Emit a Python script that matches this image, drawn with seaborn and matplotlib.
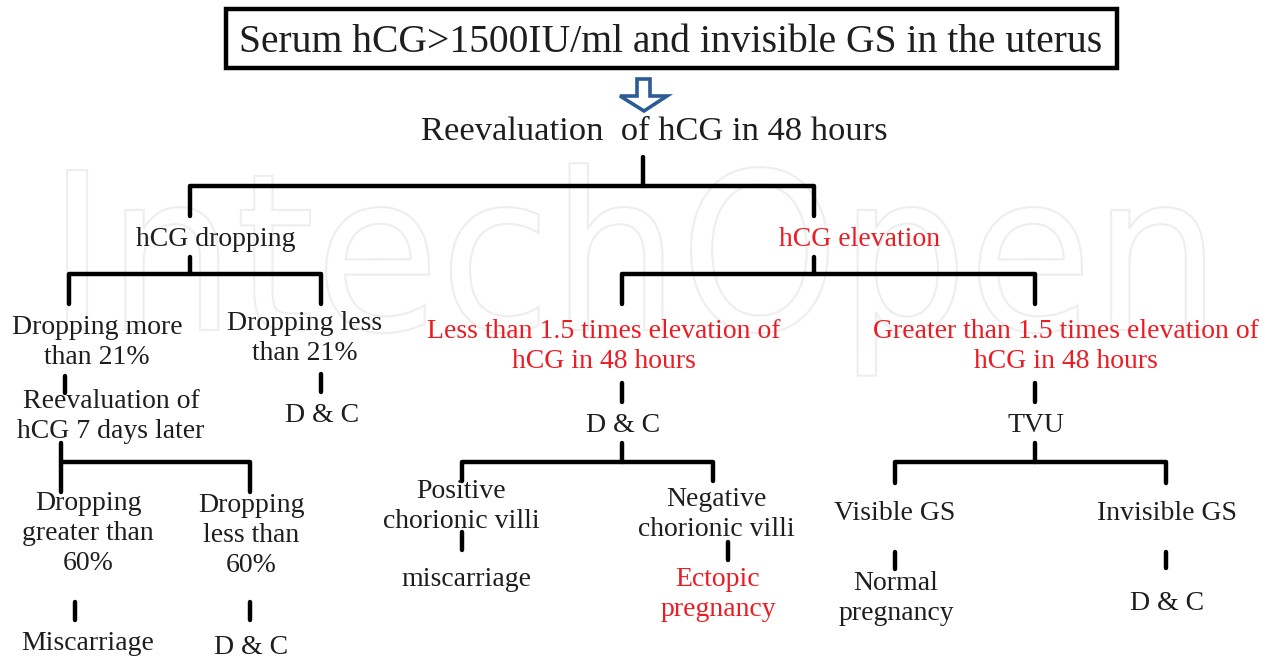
import matplotlib
matplotlib.use("Agg")
import matplotlib.pyplot as plt
import seaborn as sns
import pandas as pd
from matplotlib.patches import Polygon, Rectangle, PathPatch
from matplotlib.textpath import TextPath
from matplotlib.font_manager import FontProperties
from matplotlib.transforms import Affine2D

sns.set_theme(style="white")
plt.rcParams["font.family"] = ["Liberation Serif", "DejaVu Serif"]

BLACK = "#1e1e1e"
RED = "#ec1c24"
BLUE = "#2d5b95"

# title box and first step
title = "Serum hCG>1500IU/ml and invisible GS in the uterus"
first_step = "Reevaluation  of hCG in 48 hours"

# flowchart nodes (text, red flag)
labels = [
    "hCG dropping", "hCG elevation",
    "Dropping more\nthan 21%", "Dropping less\nthan 21%",
    "Less than 1.5 times elevation of\nhCG in 48 hours",
    "Greater than 1.5 times elevation of\nhCG in 48 hours",
    "Reevaluation of\nhCG 7 days later", "D & C", "D & C", "TVU",
    "Dropping\ngreater than\n60%", "Dropping\nless than\n60%",
    "Positive\nchorionic villi", "Negative\nchorionic villi",
    "Visible GS", "Invisible GS",
    "miscarriage", "Ectopic\npregnancy", "Normal\npregnancy", "D & C",
    "Miscarriage", "D & C",
]
is_red = [0, 1, 0, 0, 1, 1, 0, 0, 0, 0, 0, 0, 0, 0, 0, 0, 0, 1, 0, 0, 0, 0]

# layout: centre x and y of first line (pixels from top-left)
node_x = [216, 860, 97, 305, 604, 1066, 111, 322, 623, 1036, 88, 251,
          461, 716, 895, 1167, 466, 718, 896, 1167, 88, 251]
node_y = [237, 237, 325, 321, 330, 330, 399, 413, 423, 423, 502, 503,
          490, 497, 512, 512, 577, 578, 581, 601, 641, 645]

# bracket connectors: stem x, stem top, bar y, bar left, bar right, drop bottom
brackets = [
    (643, 157, 186, 190, 814, 216),
    (190, 257, 274, 69, 321, 304),
    (814, 257, 274, 622, 1035, 304),
    (61, 443, 462, 61, 250, 492),
    (622, 443, 462, 462, 713, 481),
    (1035, 443, 462, 895, 1166, 483),
]
# short vertical stubs: x, top, bottom
stubs = [(65, 376, 393), (321, 374, 392), (622, 383, 402), (1035, 383, 402),
         (75, 602, 620), (250, 602, 620), (462, 532, 550), (728, 542, 560),
         (895, 552, 569), (1166, 552, 568)]

rows = []
seg = 0
for sx, st, by, lx, rx, db in brackets:
    for px, py in [(sx, st), (sx, by)]:
        rows.append((seg, px, py))
    seg += 1
    for px, py in [(lx, db), (lx, by), (rx, by), (rx, db)]:
        rows.append((seg, px, py))
    seg += 1
for x, y0, y1 in stubs:
    rows.append((seg, x, y0))
    rows.append((seg, x, y1))
    seg += 1
lines = pd.DataFrame(rows, columns=["seg", "x", "y"])

fig = plt.figure(figsize=(12.7, 6.59), dpi=100)
ax = fig.add_axes([0, 0, 1, 1])

# faint outlined watermark
tp = TextPath((0, 0), "IntechOpen", size=100, prop=FontProperties(family="DejaVu Sans"))
ext = tp.get_extents()
sxs = (1204 - 67) / ext.width
sys_ = 160 / 72.9
tr = Affine2D().translate(-ext.x0, 0).scale(sxs, -sys_).translate(67, 330)
ax.add_patch(PathPatch(tr.transform_path(tp), facecolor="none",
                       edgecolor="#eeeeee", lw=1.5, zorder=0))

sns.lineplot(data=lines, x="x", y="y", units="seg", estimator=None, sort=False,
             color="black", lw=3.2, ax=ax, zorder=2)
ax.set_xlim(0, 1270)
ax.set_ylim(659, 0)
ax.axis("off")

# title box
ax.add_patch(Rectangle((226, 9), 891, 59, facecolor="white", edgecolor="black",
                       lw=3.2, zorder=3))
ax.text(671, 42, title, ha="center", va="center", fontsize=28.5, color=BLACK, zorder=4)

# hollow arrow
arrow = [(637, 79), (650, 79), (650, 96), (667, 96), (644, 111),
         (620, 96), (637, 96)]
ax.add_patch(Polygon(arrow, closed=True, facecolor="white", edgecolor=BLUE,
                     lw=2.6, joinstyle="miter", zorder=3))

ax.text(654, 132, first_step, ha="center", va="center", fontsize=24.8, color=BLACK)

for lab, x, y, r in zip(labels, node_x, node_y, is_red):
    for i, part in enumerate(lab.split("\n")):
        ax.text(x, y + 2 + 30 * i, part, ha="center", va="center", fontsize=20,
                color=RED if r else BLACK, zorder=4)

fig.savefig("out.png", dpi=100)
